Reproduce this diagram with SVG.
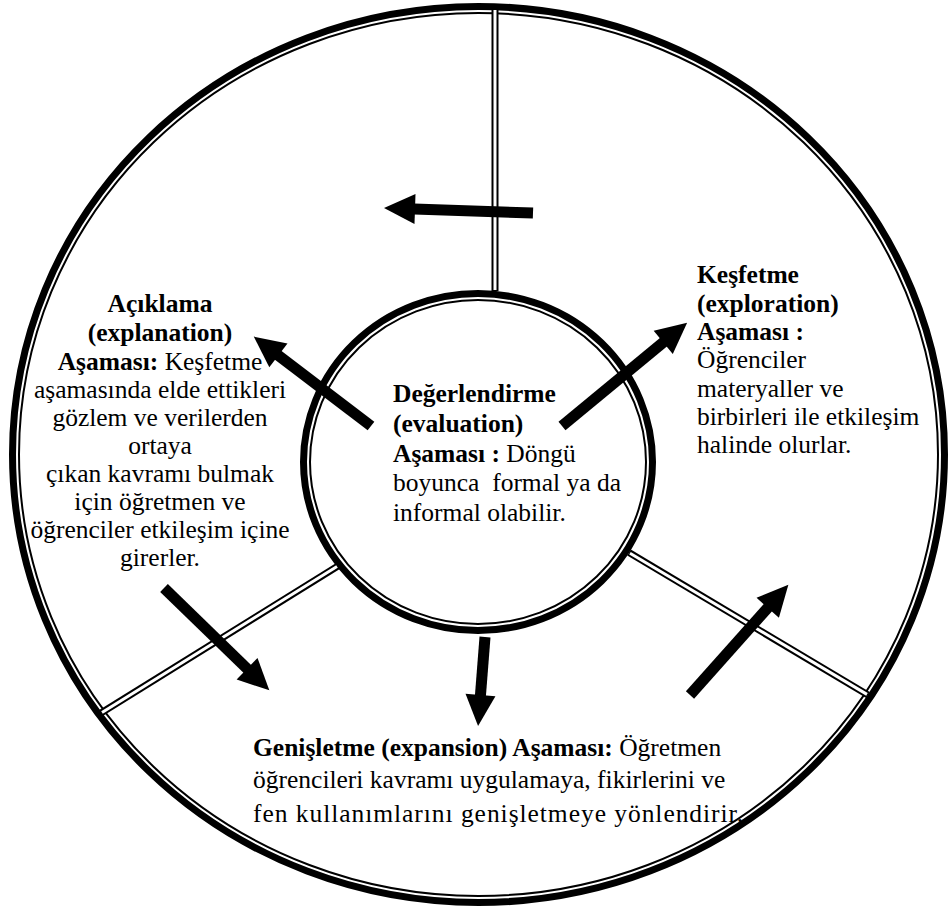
<svg xmlns="http://www.w3.org/2000/svg" width="951" height="908" viewBox="0 0 951 908">
<style>
text { font-family: "Liberation Serif", "Times New Roman", serif; font-size: 25.5px; fill: #000; }
.b { font-weight: bold; }
.c { text-anchor: middle; }
.thick { fill: none; stroke: #000; stroke-width: 7; }
.thin { fill: none; stroke: #000; stroke-width: 2; }
.dblb { stroke: #000; stroke-width: 7; fill: none; }
.dblw { stroke: #fff; stroke-width: 3; fill: none; }
.arrow { stroke: #000; stroke-width: 11; fill: none; stroke-linecap: butt; marker-end: url(#head); }
</style>
<defs>
<marker id="head" markerUnits="userSpaceOnUse" markerWidth="31" markerHeight="30" refX="1" refY="15" orient="auto" overflow="visible">
<path d="M0,0 L31,15 L0,30 Z" fill="#000"/>
</marker>
</defs>
<rect width="951" height="908" fill="#fff"/>

<g id="outer-cycle">
<ellipse cx="478.5" cy="454.5" rx="466" ry="448" class="thick"/>
<ellipse cx="478.5" cy="454.5" rx="459.5" ry="441.5" class="thin"/>
</g>

<g id="inner-circle">
<ellipse cx="478" cy="462" rx="174.5" ry="168.5" class="thick"/>
<ellipse cx="478" cy="462" rx="168" ry="162" class="thin"/>
</g>

<g id="dividers">
<line x1="495" y1="9" x2="495" y2="291" class="dblb"/>
<line x1="495" y1="10" x2="495" y2="290" class="dblw"/>
<line x1="338" y1="566" x2="101" y2="713" class="dblb"/>
<line x1="337" y1="566.6" x2="102" y2="712.4" class="dblw"/>
<line x1="629" y1="552.6" x2="868" y2="695" class="dblb"/>
<line x1="630" y1="553.2" x2="867" y2="694.4" class="dblw"/>
</g>

<g id="connectors">
<line x1="533" y1="213" x2="414" y2="209" class="arrow"/>
<line x1="371" y1="426" x2="277.6" y2="354.8" class="arrow"/>
<line x1="562" y1="426" x2="664" y2="341.8" class="arrow"/>
<line x1="485" y1="637" x2="480.4" y2="696" class="arrow"/>
<line x1="164" y1="588" x2="247.8" y2="669.4" class="arrow"/>
<line x1="690" y1="695" x2="768.4" y2="607.1" class="arrow"/>
</g>

<g id="node-evaluation">
<text x="393" y="402" class="b">Değerlendirme</text>
<text x="393" y="432" class="b">(evaluation)</text>
<text x="393" y="462"><tspan class="b">Aşaması :</tspan> Döngü</text>
<text x="393" y="491" xml:space="preserve">boyunca  formal ya da</text>
<text x="393" y="521">informal olabilir.</text>
</g>

<g id="node-explanation">
<text x="160" y="312" class="b c">Açıklama</text>
<text x="160" y="341" class="b c">(explanation)</text>
<text x="160" y="370" class="c"><tspan class="b">Aşaması:</tspan> Keşfetme</text>
<text x="160" y="398" class="c">aşamasında elde ettikleri</text>
<text x="160" y="426" class="c">gözlem ve verilerden</text>
<text x="160" y="454" class="c">ortaya</text>
<text x="160" y="482" class="c">çıkan kavramı bulmak</text>
<text x="160" y="510" class="c">için öğretmen ve</text>
<text x="160" y="538" class="c">öğrenciler etkileşim içine</text>
<text x="160" y="566" class="c">girerler.</text>
</g>

<g id="node-exploration">
<text x="697" y="283" class="b">Keşfetme</text>
<text x="697" y="312" class="b">(exploration)</text>
<text x="697" y="340" class="b">Aşaması :</text>
<text x="697" y="368">Öğrenciler</text>
<text x="697" y="397">materyaller ve</text>
<text x="697" y="425">birbirleri ile etkileşim</text>
<text x="697" y="453">halinde olurlar.</text>
</g>

<g id="node-expansion">
<text x="253" y="756"><tspan class="b">Genişletme (expansion) Aşaması:</tspan> Öğretmen</text>
<text x="253" y="788">öğrencileri kavramı uygulamaya, fikirlerini ve</text>
<text x="253" y="822" textLength="490" lengthAdjust="spacing">fen kullanımlarını genişletmeye yönlendirir.</text>
</g>
</svg>
